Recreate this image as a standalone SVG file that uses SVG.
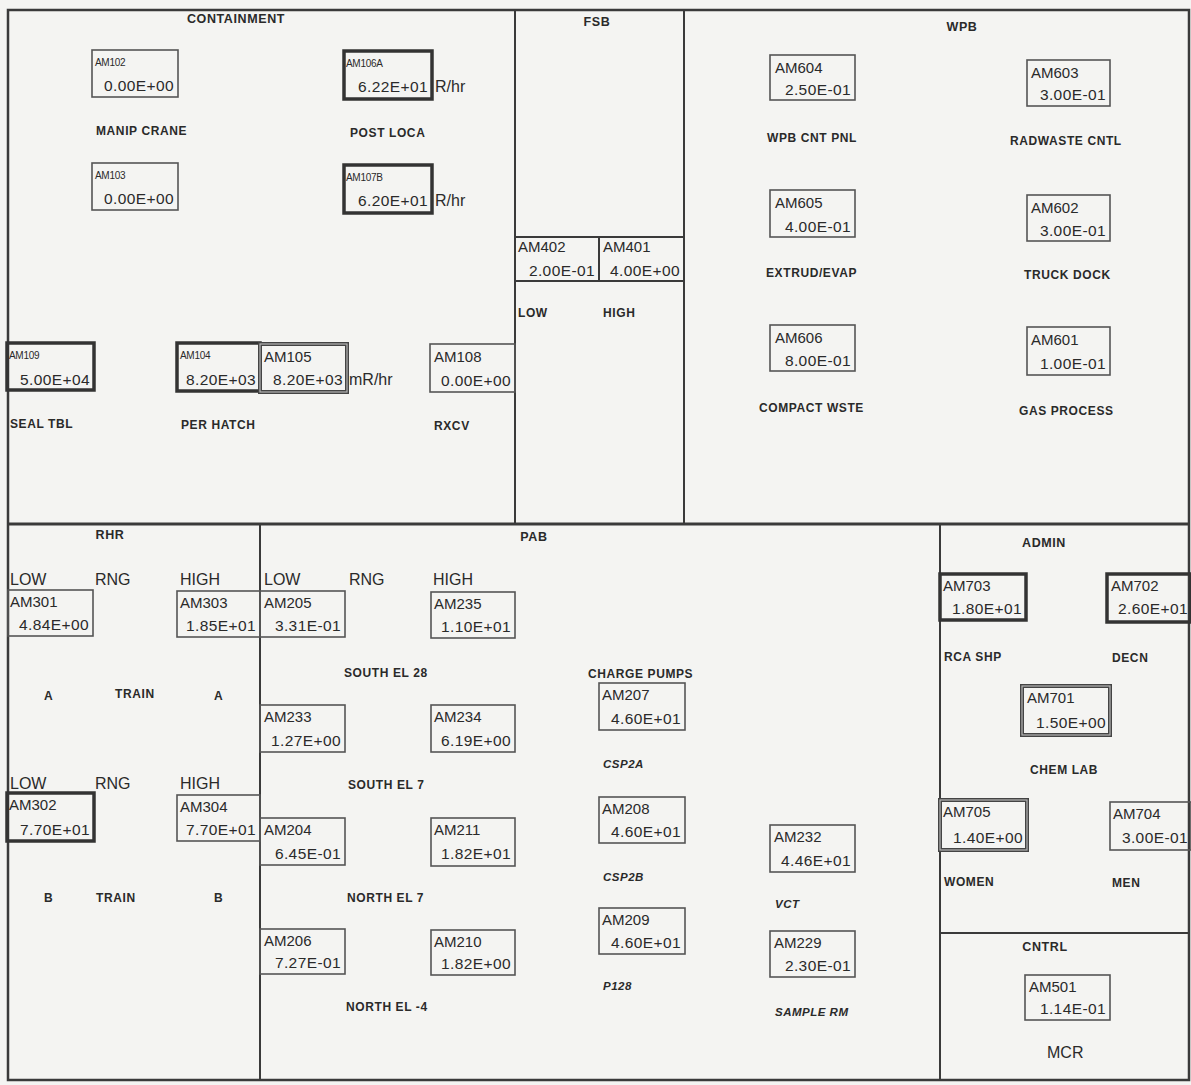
<svg xmlns="http://www.w3.org/2000/svg" width="1191" height="1085" viewBox="0 0 1191 1085">
<style>
text{font-family:"Liberation Sans",Arial,sans-serif;fill:#2a2a2a}
.sec{font-size:12.5px;font-weight:bold;letter-spacing:0.6px}
.lbl{font-size:12px;font-weight:bold;letter-spacing:0.6px}
.it{font-size:11.5px;font-weight:bold;font-style:italic;letter-spacing:0.5px}
.id{font-size:15px}
.ids{font-size:10px;letter-spacing:-0.3px}
.val{font-size:15.5px;text-anchor:end;letter-spacing:0.4px}
.hdr{font-size:16px}
.mid{text-anchor:middle}
.frame{fill:none;stroke:#3a3a3a;stroke-width:2.5}
.div{stroke:#3a3a3a;stroke-width:2;fill:none}
.box{fill:none;stroke:#555;stroke-width:1.6}
.thick{fill:none;stroke:#333;stroke-width:3.5}
.dbl{fill:none;stroke:#444;stroke-width:4}
.dbli{fill:none;stroke:#b5b5b5;stroke-width:1.2}
</style>
<rect x="0" y="0" width="1191" height="1085" fill="#f4f4f2"/>
<g id="frame">
<rect class="frame" x="8" y="10" width="1181" height="1070"/>
<line class="div" x1="515" y1="10" x2="515" y2="524"/>
<line class="div" x1="684" y1="10" x2="684" y2="524"/>
<line class="frame" x1="8" y1="524" x2="1189" y2="524" style="stroke-width:3"/>
<line class="div" x1="260" y1="524" x2="260" y2="1080"/>
<line class="div" x1="940" y1="524" x2="940" y2="1080"/>
<line class="div" x1="940" y1="933" x2="1189" y2="933"/>
<line class="div" x1="515" y1="237" x2="684" y2="237"/>
<line class="div" x1="515" y1="281" x2="684" y2="281"/>
<line class="div" x1="599" y1="237" x2="599" y2="281"/>
</g>
<g id="titles">
<text class="sec mid" x="236" y="23">CONTAINMENT</text>
<text class="sec mid" x="597" y="26">FSB</text>
<text class="sec mid" x="962" y="31">WPB</text>
<text class="sec mid" x="110" y="539">RHR</text>
<text class="sec mid" x="534" y="541">PAB</text>
<text class="sec mid" x="1044" y="547">ADMIN</text>
<text class="sec mid" x="1045" y="951">CNTRL</text>
</g>
<g id="labels">
<text class="lbl" x="96" y="135">MANIP CRANE</text>
<text class="lbl" x="350" y="137">POST LOCA</text>
<text class="lbl" x="10" y="428">SEAL TBL</text>
<text class="lbl" x="181" y="429">PER HATCH</text>
<text class="lbl" x="434" y="430">RXCV</text>
<text class="lbl" x="518" y="317">LOW</text>
<text class="lbl" x="603" y="317">HIGH</text>
<text class="lbl" x="767" y="142">WPB CNT PNL</text>
<text class="lbl" x="1010" y="145">RADWASTE CNTL</text>
<text class="lbl" x="766" y="277">EXTRUD/EVAP</text>
<text class="lbl" x="1024" y="279">TRUCK DOCK</text>
<text class="lbl" x="759" y="412">COMPACT WSTE</text>
<text class="lbl" x="1019" y="415">GAS PROCESS</text>
<text class="hdr" x="10" y="585">LOW</text>
<text class="hdr" x="95" y="585">RNG</text>
<text class="hdr" x="180" y="585">HIGH</text>
<text class="hdr" x="264" y="585">LOW</text>
<text class="hdr" x="349" y="585">RNG</text>
<text class="hdr" x="433" y="585">HIGH</text>
<text class="hdr" x="10" y="789">LOW</text>
<text class="hdr" x="95" y="789">RNG</text>
<text class="hdr" x="180" y="789">HIGH</text>
<text class="lbl" x="44" y="700">A</text>
<text class="lbl" x="115" y="698">TRAIN</text>
<text class="lbl" x="214" y="700">A</text>
<text class="lbl" x="44" y="902">B</text>
<text class="lbl" x="96" y="902">TRAIN</text>
<text class="lbl" x="214" y="902">B</text>
<text class="lbl" x="344" y="677">SOUTH EL 28</text>
<text class="lbl" x="348" y="789">SOUTH EL 7</text>
<text class="lbl" x="347" y="902">NORTH EL 7</text>
<text class="lbl" x="346" y="1011">NORTH EL -4</text>
<text class="lbl" x="588" y="678">CHARGE PUMPS</text>
<text class="it" x="603" y="768">CSP2A</text>
<text class="it" x="603" y="881">CSP2B</text>
<text class="it" x="603" y="990">P128</text>
<text class="it" x="775" y="908">VCT</text>
<text class="it" x="775" y="1016">SAMPLE RM</text>
<text class="lbl" x="944" y="661">RCA SHP</text>
<text class="lbl" x="1112" y="662">DECN</text>
<text class="lbl" x="1030" y="774">CHEM LAB</text>
<text class="lbl" x="944" y="886">WOMEN</text>
<text class="lbl" x="1112" y="887">MEN</text>
<text class="hdr" x="1047" y="1058">MCR</text>
</g>
<g id="connectors"></g>
<g id="AM102"><rect class="box" x="92" y="50" width="86" height="47"/><text class="ids" x="95" y="66">AM102</text><text class="val" x="174" y="91">0.00E+00</text></g>
<g id="AM103"><rect class="box" x="92" y="163" width="86" height="47"/><text class="ids" x="95" y="179">AM103</text><text class="val" x="174" y="204">0.00E+00</text></g>
<g id="AM106A"><rect class="thick" x="344" y="51" width="88" height="48"/><text class="ids" x="346" y="67">AM106A</text><text class="val" x="428" y="92">6.22E+01</text><text class="hdr" x="435" y="92">R/hr</text></g>
<g id="AM107B"><rect class="thick" x="344" y="165" width="88" height="48"/><text class="ids" x="346" y="181">AM107B</text><text class="val" x="428" y="206">6.20E+01</text><text class="hdr" x="435" y="206">R/hr</text></g>
<g id="AM109"><rect class="thick" x="7" y="343" width="87" height="47"/><text class="ids" x="9" y="359">AM109</text><text class="val" x="90" y="385">5.00E+04</text></g>
<g id="AM104"><rect class="thick" x="177" y="343" width="83" height="48"/><text class="ids" x="180" y="359">AM104</text><text class="val" x="256" y="385">8.20E+03</text></g>
<g id="AM105"><rect class="dbl" x="260" y="344" width="87" height="48"/><rect class="dbli" x="260" y="344" width="87" height="48"/><text class="id" x="264" y="362">AM105</text><text class="val" x="343" y="385">8.20E+03</text><text class="hdr" x="349" y="385">mR/hr</text></g>
<g id="AM108"><rect class="box" x="430" y="344" width="85" height="48"/><text class="id" x="434" y="362">AM108</text><text class="val" x="511" y="386">0.00E+00</text></g>
<g id="AM402"><text class="id" x="518" y="252">AM402</text><text class="val" x="595" y="276">2.00E-01</text></g>
<g id="AM401"><text class="id" x="603" y="252">AM401</text><text class="val" x="680" y="276">4.00E+00</text></g>
<g id="AM604"><rect class="box" x="770" y="55" width="85" height="45"/><text class="id" x="775" y="73">AM604</text><text class="val" x="851" y="95">2.50E-01</text></g>
<g id="AM603"><rect class="box" x="1027" y="60" width="83" height="46"/><text class="id" x="1031" y="78">AM603</text><text class="val" x="1106" y="100">3.00E-01</text></g>
<g id="AM605"><rect class="box" x="770" y="190" width="85" height="47"/><text class="id" x="775" y="208">AM605</text><text class="val" x="851" y="232">4.00E-01</text></g>
<g id="AM602"><rect class="box" x="1027" y="195" width="83" height="46"/><text class="id" x="1031" y="213">AM602</text><text class="val" x="1106" y="236">3.00E-01</text></g>
<g id="AM606"><rect class="box" x="770" y="325" width="85" height="46"/><text class="id" x="775" y="343">AM606</text><text class="val" x="851" y="366">8.00E-01</text></g>
<g id="AM601"><rect class="box" x="1027" y="327" width="83" height="48"/><text class="id" x="1031" y="345">AM601</text><text class="val" x="1106" y="369">1.00E-01</text></g>
<g id="AM301"><rect class="box" x="8" y="590" width="85" height="46"/><text class="id" x="10" y="607">AM301</text><text class="val" x="89" y="630">4.84E+00</text></g>
<g id="AM303"><rect class="box" x="177" y="591" width="83" height="46"/><text class="id" x="180" y="608">AM303</text><text class="val" x="256" y="631">1.85E+01</text></g>
<g id="AM205"><rect class="box" x="260" y="591" width="85" height="46"/><text class="id" x="264" y="608">AM205</text><text class="val" x="341" y="631">3.31E-01</text></g>
<g id="AM235"><rect class="box" x="431" y="592" width="84" height="46"/><text class="id" x="434" y="609">AM235</text><text class="val" x="511" y="632">1.10E+01</text></g>
<g id="AM233"><rect class="box" x="260" y="705" width="85" height="47"/><text class="id" x="264" y="722">AM233</text><text class="val" x="341" y="746">1.27E+00</text></g>
<g id="AM234"><rect class="box" x="431" y="705" width="84" height="47"/><text class="id" x="434" y="722">AM234</text><text class="val" x="511" y="746">6.19E+00</text></g>
<g id="AM302"><rect class="thick" x="7" y="793" width="87" height="48"/><text class="id" x="9" y="810">AM302</text><text class="val" x="90" y="835">7.70E+01</text></g>
<g id="AM304"><rect class="box" x="177" y="795" width="83" height="46"/><text class="id" x="180" y="812">AM304</text><text class="val" x="256" y="835">7.70E+01</text></g>
<g id="AM204"><rect class="box" x="260" y="818" width="85" height="47"/><text class="id" x="264" y="835">AM204</text><text class="val" x="341" y="859">6.45E-01</text></g>
<g id="AM211"><rect class="box" x="431" y="818" width="84" height="48"/><text class="id" x="434" y="835">AM211</text><text class="val" x="511" y="859">1.82E+01</text></g>
<g id="AM206"><rect class="box" x="260" y="929" width="85" height="45"/><text class="id" x="264" y="946">AM206</text><text class="val" x="341" y="968">7.27E-01</text></g>
<g id="AM210"><rect class="box" x="431" y="930" width="84" height="45"/><text class="id" x="434" y="947">AM210</text><text class="val" x="511" y="969">1.82E+00</text></g>
<g id="AM207"><rect class="box" x="599" y="683" width="86" height="47"/><text class="id" x="602" y="700">AM207</text><text class="val" x="681" y="724">4.60E+01</text></g>
<g id="AM208"><rect class="box" x="599" y="797" width="86" height="46"/><text class="id" x="602" y="814">AM208</text><text class="val" x="681" y="837">4.60E+01</text></g>
<g id="AM209"><rect class="box" x="599" y="908" width="86" height="46"/><text class="id" x="602" y="925">AM209</text><text class="val" x="681" y="948">4.60E+01</text></g>
<g id="AM232"><rect class="box" x="770" y="825" width="85" height="47"/><text class="id" x="774" y="842">AM232</text><text class="val" x="851" y="866">4.46E+01</text></g>
<g id="AM229"><rect class="box" x="770" y="931" width="85" height="46"/><text class="id" x="774" y="948">AM229</text><text class="val" x="851" y="971">2.30E-01</text></g>
<g id="AM703"><rect class="thick" x="940" y="574" width="86" height="46"/><text class="id" x="943" y="591">AM703</text><text class="val" x="1022" y="614">1.80E+01</text></g>
<g id="AM702"><rect class="thick" x="1107" y="574" width="84" height="48"/><text class="id" x="1111" y="591">AM702</text><text class="val" x="1188" y="614">2.60E+01</text></g>
<g id="AM701"><rect class="dbl" x="1022" y="686" width="88" height="49"/><rect class="dbli" x="1022" y="686" width="88" height="49"/><text class="id" x="1027" y="703">AM701</text><text class="val" x="1106" y="728">1.50E+00</text></g>
<g id="AM705"><rect class="dbl" x="940" y="800" width="87" height="50"/><rect class="dbli" x="940" y="800" width="87" height="50"/><text class="id" x="943" y="817">AM705</text><text class="val" x="1023" y="843">1.40E+00</text></g>
<g id="AM704"><rect class="box" x="1110" y="802" width="81" height="48"/><text class="id" x="1113" y="819">AM704</text><text class="val" x="1188" y="843">3.00E-01</text></g>
<g id="AM501"><rect class="box" x="1025" y="975" width="85" height="45"/><text class="id" x="1029" y="992">AM501</text><text class="val" x="1106" y="1014">1.14E-01</text></g>
</svg>
